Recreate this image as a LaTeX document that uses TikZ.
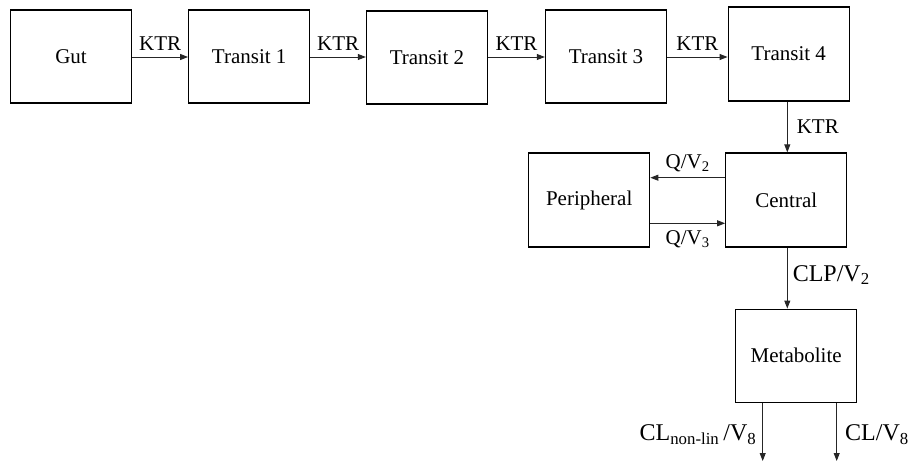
\documentclass[tikz,border=0pt]{standalone}
\usepackage{fontspec}
\setmainfont{Liberation Serif}
\usetikzlibrary{arrows.meta}
\begin{document}
\begin{tikzpicture}[x=1pt,y=-1pt,
  box/.style={draw=black, line width=1.3pt, rectangle, minimum width=121pt, minimum height=93pt, inner sep=0pt, font=\fontsize{21}{25}\selectfont},
  flow/.style={draw=black!85, line width=0.9pt, -{Triangle[length=8pt,width=6pt]}},
  lab/.style={font=\fontsize{21}{25}\selectfont, inner sep=1pt},
  biglab/.style={font=\fontsize{24}{28}\selectfont, inner sep=1pt}]
\useasboundingbox (0,0) rectangle (908,463);
\node[box] (gut) at (71,56.5) {Gut};
\node[box] (t1) at (249.2,56.5) {Transit 1};
\node[box] (t2) at (427,57.5) {Transit 2};
\node[box] (t3) at (606,56.5) {Transit 3};
\node[box, minimum height=94pt] (t4) at (788.7,54) {Transit 4};
\node[box, minimum height=94pt] (cen) at (786.3,200) {Central};
\node[box, minimum height=94pt] (per) at (589.2,200) {Peripheral};
\node[box] (met) at (796.2,355.7) {Metabolite};
\coordinate (o1) at (762.7,461);
\coordinate (o2) at (836.7,461);
\draw[flow] ([yshift=-0.5pt]gut.east) -- node[lab, above=5pt] {KTR} ([yshift=-0.5pt]gut.east -| t1.west);
\draw[flow] ([yshift=-0.5pt]t1.east) -- node[lab, above=5pt] {KTR} ([yshift=-0.5pt]t1.east -| t2.west);
\draw[flow] ([yshift=-0.5pt]t3.west -| t2.east) -- node[lab, above=5pt] {KTR} ([yshift=-0.5pt]t3.west);
\draw[flow] ([yshift=-0.5pt]t3.east) -- node[lab, above=5pt] {KTR} ([yshift=-0.5pt]t3.east -| t4.west);
\draw[flow] ([xshift=1pt]cen.north |- t4.south) -- node[lab, right=8pt] {KTR} ([xshift=1pt]cen.north);
\draw[flow] ([yshift=22.3pt]cen.west) -- node[lab, above=4pt] {Q/V\textsubscript{2}} ([yshift=22.3pt]cen.west -| per.east);
\draw[flow] ([yshift=-23.3pt]per.east) -- node[lab, below=6pt] {Q/V\textsubscript{3}} ([yshift=-23.3pt]per.east -| cen.west);
\draw[flow] ([xshift=1pt]cen.south) -- node[biglab, right=4pt, yshift=3pt] {CLP/V\textsubscript{2}} ([xshift=1pt]cen.south |- met.north);
\draw[flow] (o1 |- met.south) -- node[biglab, left=5pt, yshift=-3pt] {CL\textsubscript{non-lin}\,/V\textsubscript{8}} (o1);
\draw[flow] (o2 |- met.south) -- node[biglab, right=7pt, yshift=-3pt] {CL/V\textsubscript{8}} (o2);
\end{tikzpicture}
\end{document}
